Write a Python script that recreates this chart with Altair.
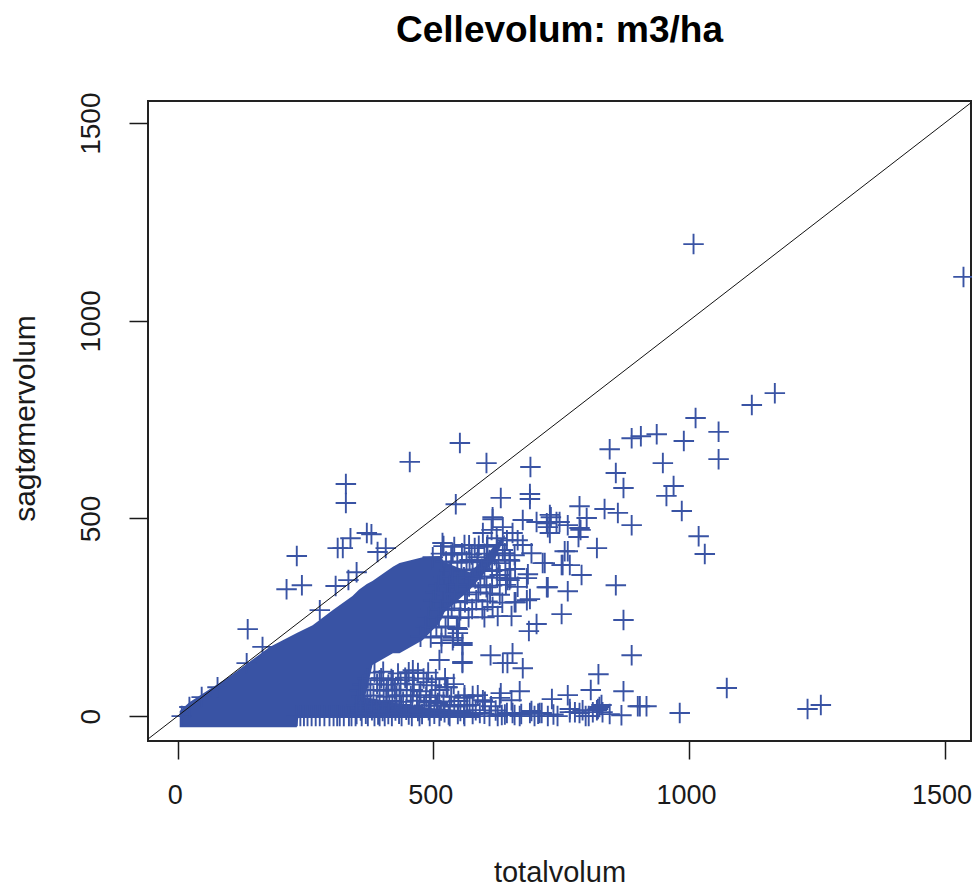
import altair as alt
import pandas as pd

title_text = "Cellevolum: m3/ha"
x_label = "totalvolum"
y_label = "sagtømervolum"
tick_values = [0, 500, 1000, 1500]
x_domain = [-58, 1551.7]
y_domain = [-63, 1556]
diagonal = [-63, 1557]

# Solid body of overlapping crosses: extent
mass_x = [4, 23, 102, 180, 233, 236, 264, 303, 342, 355, 370, 381, 421, 434, 479, 512, 522, 571, 597, 620, 640]
mass_top = [13, 35, 101, 175, 210, 212, 230, 268, 304, 320, 334, 342, 378, 387, 402, 405, 390, 364, 395, 433, 458]
mass_low = [-28, -28, -28, -28, -28, -5, -5, -5, -5, -5, 66, 129, 159, 159, 192, 235, 263, 319, 357, 395, 453]
band_x = [346, 400, 450, 500, 560, 590]
band_top = [53, 40, 28, 20, 15, 10]
band_low = [-5, -5, -5, -5, -5, -5]

outer_x = [1168, 1123, 1013, 1058, 990, 937, 906, 888, 845, 1058, 949, 857, 872, 970, 956, 986, 835, 861, 888, 820, 1019, 1031, 857, 872, 888, 823, 872, 1074, 917, 904, 982, 1232, 1258, 868, 808, 1009, 1537]
outer_y = [817, 787, 754, 719, 696, 713, 708, 703, 675, 650, 640, 615, 577, 582, 557, 519, 524, 514, 483, 425, 455, 410, 331, 243, 154, 106, 63, 71, 25, 25, 8, 18, 28, 2, 66, 1194, 1111]

above_x = [544, 552, 329, 329, 454, 604, 690, 370, 379, 338, 323, 313, 407, 391, 233, 243, 213, 309, 350, 334, 137, 166, 278, 8, 23, 47, 78, 135]
above_y = [536, 691, 587, 539, 643, 640, 630, 463, 460, 450, 425, 425, 425, 415, 405, 331, 321, 329, 364, 344, 220, 175, 268, 0, 23, 48, 73, 134]

spine_x = [632, 689, 689, 616, 730, 786, 788, 800, 763, 753, 718, 790, 724, 763, 685, 649, 689, 661, 751, 653, 702, 687, 600, 616, 548, 557, 538, 612, 655, 636, 557, 675, 616, 675, 702, 724, 747, 597, 636, 655, 624, 518, 561, 606, 675, 636, 659, 692, 538, 587, 499, 714, 645, 683, 624, 722, 659, 683, 604, 728, 722, 741, 763, 728, 784, 786, 757, 751, 767, 626, 571, 581, 614, 644, 665, 591, 649, 610, 630]
spine_y = [552, 549, 562, 503, 503, 531, 471, 501, 417, 382, 387, 357, 326, 316, 359, 344, 296, 288, 258, 253, 233, 215, 250, 276, 220, 185, 192, 154, 159, 134, 134, 121, 498, 496, 491, 478, 491, 463, 478, 463, 450, 438, 433, 433, 433, 420, 407, 412, 412, 402, 402, 387, 344, 349, 369, 326, 288, 293, 326, 509, 488, 491, 483, 463, 453, 476, 417, 382, 382, 253, 395, 425, 471, 445, 445, 369, 395, 395, 357]

lower_x = [632, 561, 526, 587, 669, 763, 732, 825, 792, 767, 712, 689, 655, 634, 591, 831, 812, 804, 743, 900, 767, 822, 829, 786, 708, 692, 659, 644, 626, 820, 630, 653, 777, 724, 669, 610, 577, 561, 548, 522, 698, 845, 798, 516, 557, 557, 645, 487, 528, 561, 597, 509, 460, 421, 409, 460, 493, 532, 571, 448, 548, 512, 434, 473, 395]
lower_y = [58, 53, 73, 53, 63, 53, 43, 23, 15, 10, 8, 8, 8, 3, 8, 10, 10, 0, 0, 25, 18, 18, 28, 8, 8, 13, 3, 8, 0, 15, 46, 40, 10, 0, 0, 0, 5, 0, 5, 10, 0, 5, 0, 185, 180, 137, 134, 86, 73, 46, 40, 33, 116, 91, 66, 66, 35, 28, 28, 91, 210, 142, 53, 53, 91]

zero_x = [233, 240, 247, 254, 262, 270, 278, 287, 297, 305, 312, 317, 325, 335, 340, 348, 360, 372, 385, 395, 405, 419, 438, 458, 473, 493, 512, 532]
zero_y = [0] * len(zero_x)

# Dense knot around totalvolum 480-670
knot_x = [520, 541, 570, 589, 605, 625, 515, 535, 556, 575, 600, 620, 640, 525, 547, 565, 586, 606, 628, 650, 516, 533, 555, 577, 595, 615, 641, 660, 521, 538, 560, 582, 600, 625, 651, 510, 531, 548, 570, 592, 615, 642, 665, 505, 527, 544, 566, 588, 611, 630, 500, 519, 541, 562, 584, 606, 635, 495, 514, 536, 553, 576, 596, 490, 511, 529, 551, 569, 485, 506, 524, 546, 475, 495, 516, 539]
knot_y = [430, 428, 432, 431, 428, 433, 411, 408, 412, 409, 411, 407, 412, 391, 388, 392, 389, 391, 387, 393, 372, 368, 371, 369, 373, 367, 370, 372, 352, 349, 351, 348, 353, 350, 349, 331, 329, 333, 328, 331, 330, 332, 327, 312, 309, 311, 308, 313, 310, 307, 292, 289, 291, 288, 293, 290, 287, 271, 269, 272, 268, 271, 270, 251, 249, 252, 248, 250, 226, 224, 227, 223, 201, 199, 202, 198]

# Crowded strip near the bottom, totalvolum 350-740
strip_x = [385, 402, 431, 452, 470, 490, 372, 398, 418, 445, 481, 505, 523, 362, 390, 412, 436, 462, 497, 540, 356, 377, 403, 425, 448, 475, 512, 360, 383, 408, 428, 456, 486, 504, 535, 577, 352, 371, 395, 420, 441, 468, 495, 520, 549, 601, 350, 366, 389, 414, 437, 459, 482, 507, 541, 566, 613, 358, 380, 401, 426, 447, 470, 491, 515, 553, 583, 622, 350, 368, 392, 412, 433, 452, 478, 502, 530, 560, 600, 640, 672, 705, 735]
strip_y = [110, 112, 108, 111, 109, 110, 95, 96, 94, 97, 95, 93, 96, 80, 81, 79, 82, 80, 78, 81, 65, 66, 64, 67, 65, 63, 66, 50, 52, 49, 51, 50, 48, 52, 49, 51, 38, 39, 37, 38, 36, 39, 38, 37, 38, 36, 26, 27, 25, 26, 28, 25, 27, 26, 24, 26, 25, 14, 15, 13, 14, 16, 13, 15, 14, 13, 15, 14, 5, 6, 4, 5, 6, 4, 5, 6, 4, 5, 6, 4, 5, 6, 4]

points = pd.DataFrame({
    "x": outer_x + above_x + spine_x + lower_x + zero_x + knot_x + strip_x,
    "y": outer_y + above_y + spine_y + lower_y + zero_y + knot_y + strip_y,
})
mass = pd.DataFrame({"x": mass_x, "top": mass_top, "low": mass_low})
band = pd.DataFrame({"x": band_x, "top": band_top, "low": band_low})
line = pd.DataFrame({"x": diagonal, "y": diagonal})

BLUE = "#3953A4"
INK = "#1a1a1a"
FONT = "Liberation Sans"

x_scale = alt.Scale(domain=x_domain, nice=False, zero=False)
y_scale = alt.Scale(domain=y_domain, nice=False, zero=False)
x_axis = alt.Axis(values=tick_values, format="d", title=x_label, grid=False, domain=False, labelAngle=0,
                  tickSize=18, tickWidth=1.5, tickColor=INK, labelFontSize=27, labelColor=INK,
                  labelFont=FONT, labelPadding=23, labelOffset=-3, labelFlush=False, labelOverlap=False,
                  titleFont=FONT, titleFontSize=29, titleFontWeight="normal", titleColor=INK,
                  titlePadding=50)
y_axis = alt.Axis(values=tick_values, format="d", title=y_label, grid=False, domain=False, labelAngle=270,
                  tickSize=19, tickWidth=1.5, tickColor=INK, labelFontSize=28, labelColor=INK,
                  labelFont=FONT, labelPadding=24, labelOverlap=False,
                  titleFont=FONT, titleFontSize=30, titleFontWeight="normal", titleColor=INK,
                  titlePadding=37, titleY=317)

body = alt.Chart(mass).mark_area(color=BLUE, interpolate="linear", opacity=1).encode(
    x=alt.X("x:Q", scale=x_scale, axis=x_axis),
    y=alt.Y("top:Q", scale=y_scale, axis=y_axis),
    y2="low:Q",
)
lower_band = alt.Chart(band).mark_area(color=BLUE, opacity=1).encode(
    x=alt.X("x:Q", scale=x_scale),
    y=alt.Y("top:Q", scale=y_scale),
    y2="low:Q",
)
crosses = alt.Chart(points).mark_point(
    shape="M-1,0L1,0M0,-1L0,1", filled=False, stroke=BLUE, strokeWidth=1.9, size=420, opacity=1
).encode(
    x=alt.X("x:Q", scale=x_scale),
    y=alt.Y("y:Q", scale=y_scale),
)
abline = alt.Chart(line).mark_line(color="#111111", strokeWidth=1, clip=True).encode(
    x=alt.X("x:Q", scale=x_scale),
    y=alt.Y("y:Q", scale=y_scale),
)

chart = (body + lower_band + crosses + abline).properties(
    width=823,
    height=640,
    title=alt.TitleParams(title_text, font=FONT, fontSize=37, fontWeight="bold", color="#000000",
                          anchor="middle", offset=42),
    autosize=alt.AutoSizeParams(type="none"),
    padding={"left": 140, "top": 93, "right": 1, "bottom": 146},
    background="white",
).configure_view(stroke="#222222", strokeWidth=2)

chart.save("out.html", embed_options={"renderer": "svg", "actions": False})
